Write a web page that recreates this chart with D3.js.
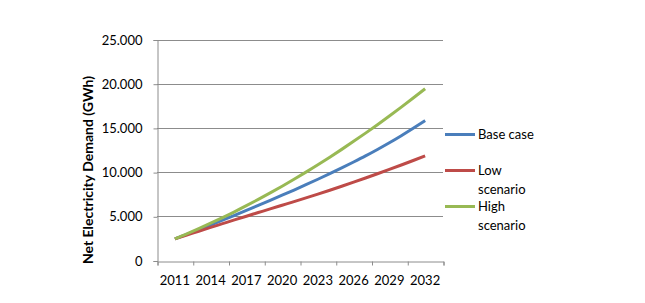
<!DOCTYPE html>
<meta charset="utf-8" />
<head>
  <style>
    body { margin: 0; background: #fff; }
    text { font-family: Lato, "Open Sans", sans-serif; fill: #000; }
  </style>
  <script src="https://cdn.jsdelivr.net/npm/d3@7"></script>
</head>
<body>
<script>
  // values
  var years = d3.range(2011, 2033);
  var baseCase = [2450, 2960, 3480, 4010, 4555, 5110, 5670, 6235, 6805, 7385, 7975, 8575,
                  9190, 9820, 10470, 11140, 11830, 12560, 13320, 14120, 14960, 15830];
  var lowScenario = [2450, 2880, 3310, 3740, 4165, 4590, 5010, 5425, 5840, 6250, 6660, 7080,
                     7510, 7950, 8400, 8860, 9330, 9810, 10300, 10800, 11310, 11840];
  var highScenario = [2450, 3010, 3600, 4215, 4850, 5510, 6200, 6910, 7645, 8405, 9190, 10000,
                      10830, 11690, 12570, 13480, 14410, 15360, 16340, 17350, 18375, 19430];
  var yTicks = [0, 5000, 10000, 15000, 20000, 25000];
  var xLabels = [2011, 2014, 2017, 2020, 2023, 2026, 2029, 2032];
  var seriesNames = [["Base case"], ["Low", "scenario"], ["High", "scenario"]];
  var seriesColors = ["#4a7ebb", "#be4b48", "#98b954"];

  var width = 645, height = 303;
  var plot = { left: 157, right: 443, top: 39.5, bottom: 260.5 };

  var svg = d3.select("body").append("svg")
    .attr("width", width)
    .attr("height", height);

  var x = d3.scaleLinear().domain([2009.5, 2033.5]).range([plot.left, plot.right]);
  var y = d3.scaleLinear().domain([0, 25000]).range([plot.bottom, plot.top]);

  // gridlines
  svg.append("g")
    .selectAll("line")
    .data(yTicks.slice(1))
    .enter()
    .append("line")
    .attr("x1", plot.left)
    .attr("x2", plot.right)
    .attr("y1", function(d) { return Math.round(y(d)) + 0.5; })
    .attr("y2", function(d) { return Math.round(y(d)) + 0.5; })
    .attr("stroke", "#8c8c8c")
    .attr("stroke-width", 1);

  // y axis
  var yAxis = svg.append("g")
    .attr("transform", "translate(" + (plot.left + 0.5) + ",0.5)")
    .call(d3.axisLeft(y).tickValues(yTicks).tickSize(4).tickPadding(11)
      .tickFormat(function(d) { return d3.format(",")(d).replace(",", "."); }));
  yAxis.select(".domain").attr("stroke", "#8c8c8c");
  yAxis.selectAll(".tick line").attr("stroke", "#8c8c8c");
  yAxis.selectAll("text").style("font-size", "13px");

  // x axis: tick marks between label groups, labels centered on them
  var tickVals = d3.range(0, 9).map(function(i) { return 2009.5 + 3 * i; });
  var xAxis = svg.append("g")
    .attr("transform", "translate(0.5," + (Math.round(plot.bottom) + 0.5) + ")")
    .call(d3.axisBottom(x).tickValues(tickVals).tickSize(4).tickFormat(""));
  xAxis.select(".domain").attr("stroke", "#8c8c8c");
  xAxis.selectAll(".tick line").attr("stroke", "#8c8c8c");

  svg.append("g")
    .selectAll("text")
    .data(xLabels)
    .enter()
    .append("text")
    .attr("x", function(d) { return x(d); })
    .attr("y", 285)
    .attr("text-anchor", "middle")
    .style("font-size", "13px")
    .text(function(d) { return d; });

  // axis title
  svg.append("text")
    .attr("transform", "translate(93,170) rotate(-90)")
    .attr("text-anchor", "middle")
    .style("font-size", "14px")
    .style("font-weight", "bold")
    .text("Net Electricity Demand (GWh)");

  // lines
  var line = d3.line()
    .x(function(d, i) { return x(years[i]); })
    .y(function(d) { return y(d); })
    .curve(d3.curveMonotoneX);

  [baseCase, lowScenario, highScenario].forEach(function(s, k) {
    svg.append("path")
      .datum(s)
      .attr("d", line)
      .attr("fill", "none")
      .attr("stroke", seriesColors[k])
      .attr("stroke-width", 3)
      .attr("stroke-linejoin", "round");
  });

  // legend
  var legendY = [134.5, 170.5, 206.5];
  var legend = svg.append("g");
  seriesNames.forEach(function(name, k) {
    legend.append("line")
      .attr("x1", 445).attr("x2", 475)
      .attr("y1", legendY[k]).attr("y2", legendY[k])
      .attr("stroke", seriesColors[k])
      .attr("stroke-width", 3);
    var t = legend.append("text")
      .attr("x", 478)
      .attr("y", legendY[k] + 4.5)
      .style("font-size", "13px");
    name.forEach(function(part, j) {
      t.append("tspan")
        .attr("x", 478)
        .attr("dy", j === 0 ? 0 : 19)
        .text(part);
    });
  });
</script>
</body>
